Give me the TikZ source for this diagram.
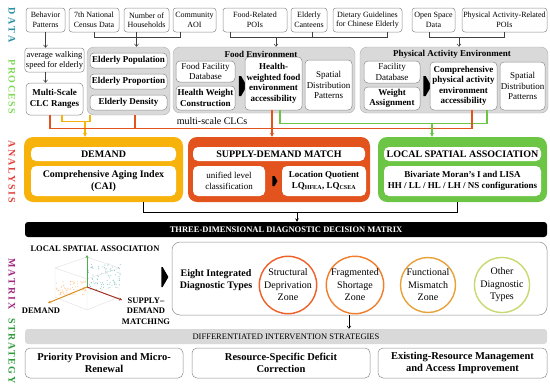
\documentclass[tikz,border=0pt]{standalone}
\usepackage{fontspec}
\setmainfont{Liberation Serif}
\usepackage{tikz}
\usetikzlibrary{arrows.meta, positioning, shapes.arrows, calc}

\definecolor{dataC}{HTML}{2B8FA3}
\definecolor{procC}{HTML}{7ED957}
\definecolor{anaC}{HTML}{E2403A}
\definecolor{matC}{HTML}{A0287F}
\definecolor{stratC}{HTML}{2E9A3C}
\definecolor{demY}{HTML}{F7B30C}
\definecolor{supR}{HTML}{E2531E}
\definecolor{lsaG}{HTML}{6CC545}
\definecolor{panel}{HTML}{D9D9D9}
\definecolor{edge}{HTML}{8C8C8C}
\definecolor{zoneA}{HTML}{EE6027}
\definecolor{zoneB}{HTML}{F07E2C}
\definecolor{zoneC}{HTML}{E8A23A}
\definecolor{zoneD}{HTML}{C6DA70}
\definecolor{axG}{HTML}{4CAF50}
\definecolor{axO}{HTML}{D98C1F}
\definecolor{axR}{HTML}{A33225}

\begin{document}
\begin{tikzpicture}[
    x=1pt, y=-1pt,
    side/.style={rotate=-90, inner sep=0pt, font=\bfseries\fontsize{10}{12}\selectfont\addfontfeatures{LetterSpace=#1}},
    src/.style={draw=edge, fill=white, rounded corners=3pt, line width=0.5pt, inner sep=1pt, minimum height=24pt, align=center, font=\fontsize{8}{9.5}\selectfont},
    panelbox/.style={fill=panel, draw=panel!80!black, line width=0.4pt, rounded corners=7pt},
    cell/.style={draw=edge, fill=white, rounded corners=4pt, line width=0.5pt, inner sep=0.5pt, align=center, font=\fontsize{9}{10.5}\selectfont},
    bcell/.style={cell, font=\bfseries\fontsize{9}{10.5}\selectfont},
    ptitle/.style={inner sep=0pt, font=\bfseries\fontsize{9}{10.5}\selectfont},
    anabox/.style={fill=#1, rounded corners=9pt, minimum height=65pt},
    tag/.style={fill=white, rounded corners=5pt, inner sep=0pt, minimum height=14pt, font=\bfseries\fontsize{10}{12}\selectfont},
    acell/.style={fill=white, rounded corners=5pt, inner sep=1pt, minimum height=30pt, align=center, font=\bfseries\fontsize{9}{11}\selectfont},
    blk/.style={single arrow, fill=black, inner sep=0pt, minimum width=20pt, minimum height=8pt, single arrow head extend=0pt, single arrow tip angle=120},
    zone/.style={circle, draw=#1, line width=1.4pt, fill=white, minimum size=55pt, inner sep=0pt, align=center, font=\fontsize{10}{12.5}\selectfont},
    scell/.style={draw=edge, fill=white, rounded corners=5pt, line width=0.5pt, minimum height=30pt, align=center, font=\bfseries\fontsize{10.5}{12.5}\selectfont},
    conn/.style={draw=black!75, line width=0.5pt},
    connarrow/.style={conn, -{Straight Barb[length=2.5pt, width=4pt]}},
    link/.style={draw=#1, line width=1.1pt},
    linkarrow/.style={link=#1, -{Stealth[length=4pt, width=4pt]}},
    karrow/.style={draw=black, line width=0.8pt, -{Stealth[length=3.5pt, width=3.5pt]}}
]
    \useasboundingbox (0,0) rectangle (550,386);

    % Stage labels
    \node[side=30, text=dataC] (lData) at (12,25) {DATA};
    \node[side=15, text=procC] (lProc) at (12,87) {PROCESS};
    \node[side=18, text=anaC] (lAna) at (12,172) {ANALYSIS};
    \node[side=22, text=matC] (lMat) at (12,284) {MATRIX};
    \node[side=15, text=stratC] (lStrat) at (12,351) {STRATEGY};

    % Data sources
    \node[src, minimum width=39pt] (dBeh) at (45.5,20) {Behavior\\Patterns};
    \node[src, minimum width=50pt] (dCen) at (94,20) {7th National\\Census Data};
    \node[src, minimum width=45pt] (dHou) at (146.5,20) {Number of\\Households};
    \node[src, minimum width=43pt] (dAoi) at (194.5,20) {Community\\AOI};
    \node[src, minimum width=64pt] (dFood) at (255,20) {Food-Related\\POIs};
    \node[src, minimum width=36pt] (dCan) at (309,20) {Elderly\\Canteens};
    \node[src, minimum width=69pt] (dDiet) at (367.5,20) {Dietary Guidelines\\for Chinese Elderly};
    \node[src, minimum width=43pt] (dOpen) at (433.5,20) {Open Space\\Data};
    \node[src, minimum width=85pt] (dPa) at (504.5,20) {Physical Activity-Related\\POIs};

    % Process: walking range and elderly indicators
    \node[src, font=\fontsize{8.5}{10}\selectfont, minimum width=57pt] (pWalk) at (54.5,60) {average walking\\speed for elderly};
    \node[bcell, minimum width=57pt, minimum height=32pt] (pClc) at (54.5,99) {Multi-Scale\\CLC Ranges};
    \node[panelbox, minimum width=83pt, minimum height=68pt] (pEld) at (128.5,81) {};
    \node[bcell, minimum width=77pt, minimum height=15pt] (ePop) at (128.5,60.5) {Elderly Population};
    \node[bcell, minimum width=77pt, minimum height=15pt, below=5.5pt of ePop] (eProp) {Elderly Proportion};
    \node[bcell, minimum width=77pt, minimum height=15pt, below=5.5pt of eProp] (eDen) {Elderly Density};

    % Process: food environment
    \node[panelbox, minimum width=182pt, minimum height=66pt] (pFood) at (264,80) {};
    \node[ptitle] (fTitle) at (261,54) {Food Environment};
    \node[cell, minimum width=59pt, minimum height=21pt] (fDb) at (205.5,71.5) {Food Facility\\Database};
    \node[bcell, minimum width=59pt, minimum height=24pt] (fHw) at (205.5,98) {Health Weight\\Construction};
    \node[blk] (fArr) at (240,86) {};
    \node[bcell, minimum width=57pt, minimum height=53pt] (fAcc) at (273.5,83.5) {Health-\\weighted food\\environment\\accessibility};
    \node[cell, minimum width=47pt, minimum height=50pt] (fSp) at (328.5,85) {Spatial\\Distribution\\Patterns};
    \node[font=\fontsize{10}{12}\selectfont, inner sep=0pt] (clcs) at (212,121) {multi-scale CLCs};

    % Process: physical activity environment
    \node[panelbox, minimum width=188pt, minimum height=66pt] (pPa) at (454,80) {};
    \node[ptitle] (aTitle) at (452,54) {Physical Activity Environment};
    \node[cell, minimum width=56pt, minimum height=22pt] (aDb) at (392,72) {Facility\\Database};
    \node[bcell, minimum width=56pt, minimum height=23pt] (aWa) at (392,98.5) {Weight\\Assignment};
    \node[blk] (aArr) at (424.5,86) {};
    \node[bcell, minimum width=67pt, minimum height=48pt] (aAcc) at (463.5,86) {Comprehensive\\physical activity\\environment\\accessibility};
    \node[cell, minimum width=45pt, minimum height=48pt] (aSp) at (522.5,86) {Spatial\\Distribution\\Patterns};

    % Analysis
    \node[anabox=demY, minimum width=159pt] (aDem) at (103.5,169.5) {};
    \node[tag, minimum width=145pt] (demTag) at (103.5,154) {DEMAND};
    \node[acell, minimum width=145pt, font=\bfseries\fontsize{10}{12}\selectfont] (demCai) at (103.5,181) {Comprehensive Aging Index\\(CAI)};
    \node[anabox=supR, minimum width=182pt] (aSup) at (279,169.5) {};
    \node[tag, minimum width=172pt] (supTag) at (279,154) {SUPPLY-DEMAND MATCH};
    \node[acell, minimum width=72pt, font=\fontsize{9}{11}\selectfont] (supUni) at (229,181) {unified level\\classification};
    \node[blk, minimum width=10pt, minimum height=5pt] (supArr) at (273.5,181) {};
    \node[acell, minimum width=84pt] (supLq) at (324,181) {Location Quotient\\LQ\textsubscript{HFEA}, LQ\textsubscript{CSEA}};
    \node[anabox=lsaG, minimum width=169pt] (aLsa) at (462.5,169.5) {};
    \node[tag, minimum width=157pt] (lsaTag) at (462.5,154) {LOCAL SPATIAL ASSOCIATION};
    \node[acell, minimum width=157pt] (lsaBiv) at (462.5,181) {Bivariate Moran's I and LISA\\HH / LL / HL / LH / NS configurations};

    % Matrix
    \node[fill=black, rounded corners=3pt, minimum width=522pt, minimum height=15pt, inner sep=0pt, text=white, font=\bfseries\fontsize{8.5}{10}\selectfont] (mBar) at (286,229.5) {THREE-DIMENSIONAL DIAGNOSTIC DECISION MATRIX};
    \node[inner sep=0pt, font=\bfseries\fontsize{8.5}{10}\selectfont] (mLsa) at (95,249) {LOCAL SPATIAL ASSOCIATION};

    % 3D scatter sketch
    \coordinate (o) at (87,287);
    \draw[gray!25, line width=0.4pt] (87,257) -- (55,268) -- (55,297) -- (87,310) -- (119,297) -- (119,268) -- cycle;
    \draw[gray!25, line width=0.4pt] (55,268) -- (87,279) -- (119,268) (87,279) -- (87,310);
    \pgfmathsetseed{12}
    \foreach \i in {1,...,70}
        \fill[orange!75, opacity=0.6] ({71+15*rand},{288+7*rand}) circle (0.55pt);
    \foreach \i in {1,...,90}
        \fill[teal!70, opacity=0.6] ({104+17*rand},{277+13*rand}) circle (0.55pt);
    \draw[axG, line width=1pt, -{Stealth[length=3pt, width=3pt]}] (o) -- (87,255);
    \draw[axO, line width=1pt, -{Stealth[length=3pt, width=3pt]}] (o) -- (48,303);
    \draw[axR, line width=1pt, -{Stealth[length=3pt, width=3pt]}] (o) -- (122,300);
    \node[inner sep=0pt, font=\bfseries\fontsize{8.5}{10.5}\selectfont] (mDem) at (41,311) {DEMAND};
    \node[inner sep=0pt, align=center, font=\bfseries\fontsize{8.5}{10.5}\selectfont] (mSup) at (146,311) {SUPPLY–\\DEMAND\\MATCHING};
    \node[blk, minimum height=7pt] (mArr) at (162,277) {};

    \node[draw=edge, fill=white, rounded corners=8pt, line width=0.5pt, minimum width=375pt, minimum height=73pt] (mBox) at (359.5,278.5) {};
    \node[inner sep=0pt, align=center, font=\bfseries\fontsize{10}{12.5}\selectfont] (mEight) at (216,280) {Eight Integrated\\Diagnostic Types};
    \node[zone=zoneA] (zStr) at (288,285) {Structural\\Deprivation\\Zone};
    \node[zone=zoneB] (zFra) at (355,285) {Fragmented\\Shortage\\Zone};
    \node[zone=zoneC] (zFun) at (428,285) {Functional\\Mismatch\\Zone};
    \node[zone=zoneD] (zOth) at (502,285) {Other\\Diagnostic\\Types};

    % Strategy
    \node[fill=panel, rounded corners=3pt, minimum width=522pt, minimum height=15pt, inner sep=0pt, font=\fontsize{8.5}{10}\selectfont] (sBar) at (286,336.5) {DIFFERENTIATED INTERVENTION STRATEGIES};
    \node[scell, minimum width=158pt] (sPri) at (104,363) {Priority Provision and Micro-\\Renewal};
    \node[scell, minimum width=178pt] (sRes) at (281,363) {Resource-Specific Deficit\\Correction};
    \node[scell, minimum width=169pt] (sExi) at (462.5,363) {Existing-Resource Management\\and Access Improvement};

    % Connections: data to process
    \draw[connarrow] (dBeh.south) -- (dBeh.south |- pWalk.north);
    \draw[connarrow] (dBeh.south |- pWalk.south) -- (dBeh.south |- pClc.north);
    \draw[conn] (dCen.south) -- ++(0,5) -| ([xshift=-14pt]dAoi.south);
    \draw[connarrow] ([xshift=-10pt]dHou.south) -- ([xshift=-10pt]dHou.south |- pEld.north);
    \draw[conn] ([xshift=-25pt]dFood.south) -- ++(0,5) -| ([xshift=20pt]dDiet.south);
    \draw[conn] ([xshift=3pt]dCan.south) -- ++(0,5);
    \draw[connarrow] ([xshift=21pt, yshift=-5pt]dFood.south) -- ([xshift=21pt]dFood.south |- pFood.north);
    \draw[conn] ([xshift=-4pt]dOpen.south) -- ++(0,5) -| (dPa.south);
    \draw[connarrow] ([xshift=25.5pt, yshift=-5pt]dOpen.south) -- ([xshift=25.5pt]dOpen.south |- pPa.north);

    % Connections: process to analysis
    \draw[link=demY] ([xshift=7.5pt]pClc.south) -- ++(0,6) -| ([xshift=-38.5pt]pEld.south);
    \draw[linkarrow=demY] ([xshift=30.5pt, yshift=-6pt]pClc.south) -- ([xshift=30.5pt]pClc.south |- aDem.north);
    \draw[link=lsaG] ([xshift=6.5pt]fAcc.south) -- ++(0,13) -| ([xshift=23.5pt]aAcc.south);
    \draw[link=supR] ([xshift=-4.5pt]pClc.south) -- ++(0,13) -| ([xshift=8.5pt]aAcc.south);
    \draw[link=supR] ([xshift=6.5pt]pEld.south) -- ++(0,13);
    \draw[linkarrow=supR] ([xshift=-1.5pt]fAcc.south) -- ([xshift=-1.5pt]fAcc.south |- aSup.north);
    \draw[linkarrow=lsaG] ([xshift=-31.5pt, yshift=-13pt]aAcc.south) -- ([xshift=-31.5pt]aAcc.south |- aLsa.north);

    % Connections: analysis to matrix to strategy
    \draw[draw=black, line width=0.8pt] ([xshift=39.5pt]aDem.south) -- ++(0,10) -| ([xshift=-5.5pt]aLsa.south);
    \draw[karrow] ([xshift=18pt, yshift=-10pt]aSup.south) -- ([xshift=18pt]aSup.south |- mBar.north);
    \draw[connarrow, draw=black] ([xshift=-10.5pt]mBox.south) -- ([xshift=-10.5pt]mBox.south |- sBar.north);
\end{tikzpicture}
\end{document}
